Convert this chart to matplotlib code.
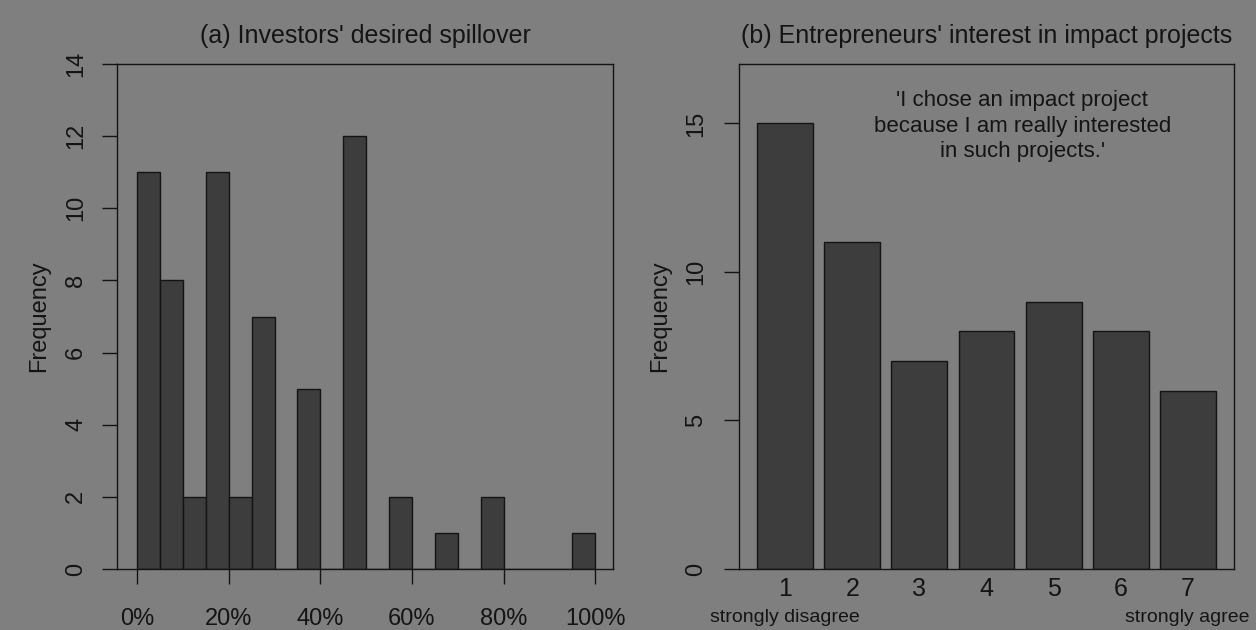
import numpy as np
import matplotlib.pyplot as plt

plt.rcParams['font.family'] = ['Liberation Sans', 'DejaVu Sans']

# (a) investors' desired spillover, histogram in 5% bins
bin_edges = np.arange(0, 105, 5)
spill_counts = [11, 8, 2, 11, 2, 7, 0, 5, 0, 12, 0, 2, 0, 1, 0, 2, 0, 0, 0, 1]
spill_ticks = [0, 20, 40, 60, 80, 100]
spill_labels = ['0%', '20%', '40%', '60%', '80%', '100%']

# (b) entrepreneurs' answers on a 7-point scale
likert = ['1', '2', '3', '4', '5', '6', '7']
likert_counts = [15, 11, 7, 8, 9, 8, 6]

BG = '#7f7f7f'
BAR = '#3d3d3d'
INK = '#141414'

fig = plt.figure(figsize=(12.56, 6.3), dpi=100, facecolor=BG)

W, H = 1256, 630


def px_axes(x0, y0, x1, y1):
    return fig.add_axes([x0 / W, 1 - y1 / H, (x1 - x0) / W, (y1 - y0) / H])


def style(ax):
    ax.set_facecolor(BG)
    for s in ax.spines.values():
        s.set_color(INK)
        s.set_linewidth(1.0)
    ax.tick_params(colors=INK, labelcolor=INK, labelsize=17, width=1.0)


# left panel
ax1 = px_axes(117, 64, 613, 569)
style(ax1)
ax1.bar(bin_edges[:-1], spill_counts, width=5, align='edge',
        color=BAR, edgecolor=INK, linewidth=1.0)
ax1.set_xlim(-4.4, 103.9)
ax1.set_ylim(0, 14)
ax1.set_yticks(np.arange(0, 15, 2))
ax1.set_xticks(spill_ticks)
ax1.set_xticklabels(spill_labels)
ax1.tick_params(axis='both', direction='out', length=11)
ax1.tick_params(axis='x', pad=17)
ax1.tick_params(axis='y', pad=10.5)
for t in ax1.get_yticklabels():
    t.set_rotation(90)
    t.set_va('center')
ax1.set_ylabel('Frequency', fontsize=17, color=INK)
ax1.yaxis.label.set_va('center')
ax1.yaxis.set_label_coords(-0.157, 0.5)
ax1.text(0.5, 1 + 28 / 505, "(a) Investors' desired spillover",
         transform=ax1.transAxes, ha='center', va='center',
         fontsize=18, color=INK)

# right panel
ax2 = px_axes(739, 64, 1234, 569)
style(ax2)
pos = 0.7 + 1.2 * np.arange(len(likert))
ax2.bar(pos, likert_counts, width=1.0, color=BAR, edgecolor=INK, linewidth=1.0)
ax2.set_xlim(-0.128, 8.728)
ax2.set_ylim(0, 17)
ax2.set_yticks([0, 5, 10, 15])
ax2.set_xticks(pos)
ax2.set_xticklabels(likert)
ax2.tick_params(axis='x', length=0, pad=6, labelsize=18)
ax2.tick_params(axis='y', direction='out', length=11, pad=12)
for t in ax2.get_yticklabels():
    t.set_rotation(90)
    t.set_va('center')
ax2.set_ylabel('Frequency', fontsize=17, color=INK)
ax2.yaxis.label.set_va('center')
ax2.yaxis.set_label_coords(-0.160, 0.5)
ax2.text(0.5, 1 + 28 / 505, "(b) Entrepreneurs' interest in impact projects",
         transform=ax2.transAxes, ha='center', va='center',
         fontsize=18, color=INK)
ax2.text(0.572, 0.877,
         "'I chose an impact project\nbecause I am really interested\nin such projects.'",
         transform=ax2.transAxes, ha='center', va='center',
         fontsize=16, color=INK, linespacing=1.3)
ax2.text(pos[0], -48 / 505, 'strongly disagree',
         transform=ax2.get_xaxis_transform(), ha='center', va='center',
         fontsize=14, color=INK)
ax2.text(pos[-1], -48 / 505, 'strongly agree',
         transform=ax2.get_xaxis_transform(), ha='center', va='center',
         fontsize=14, color=INK)

fig.savefig('out.png', dpi=100, facecolor=BG)
